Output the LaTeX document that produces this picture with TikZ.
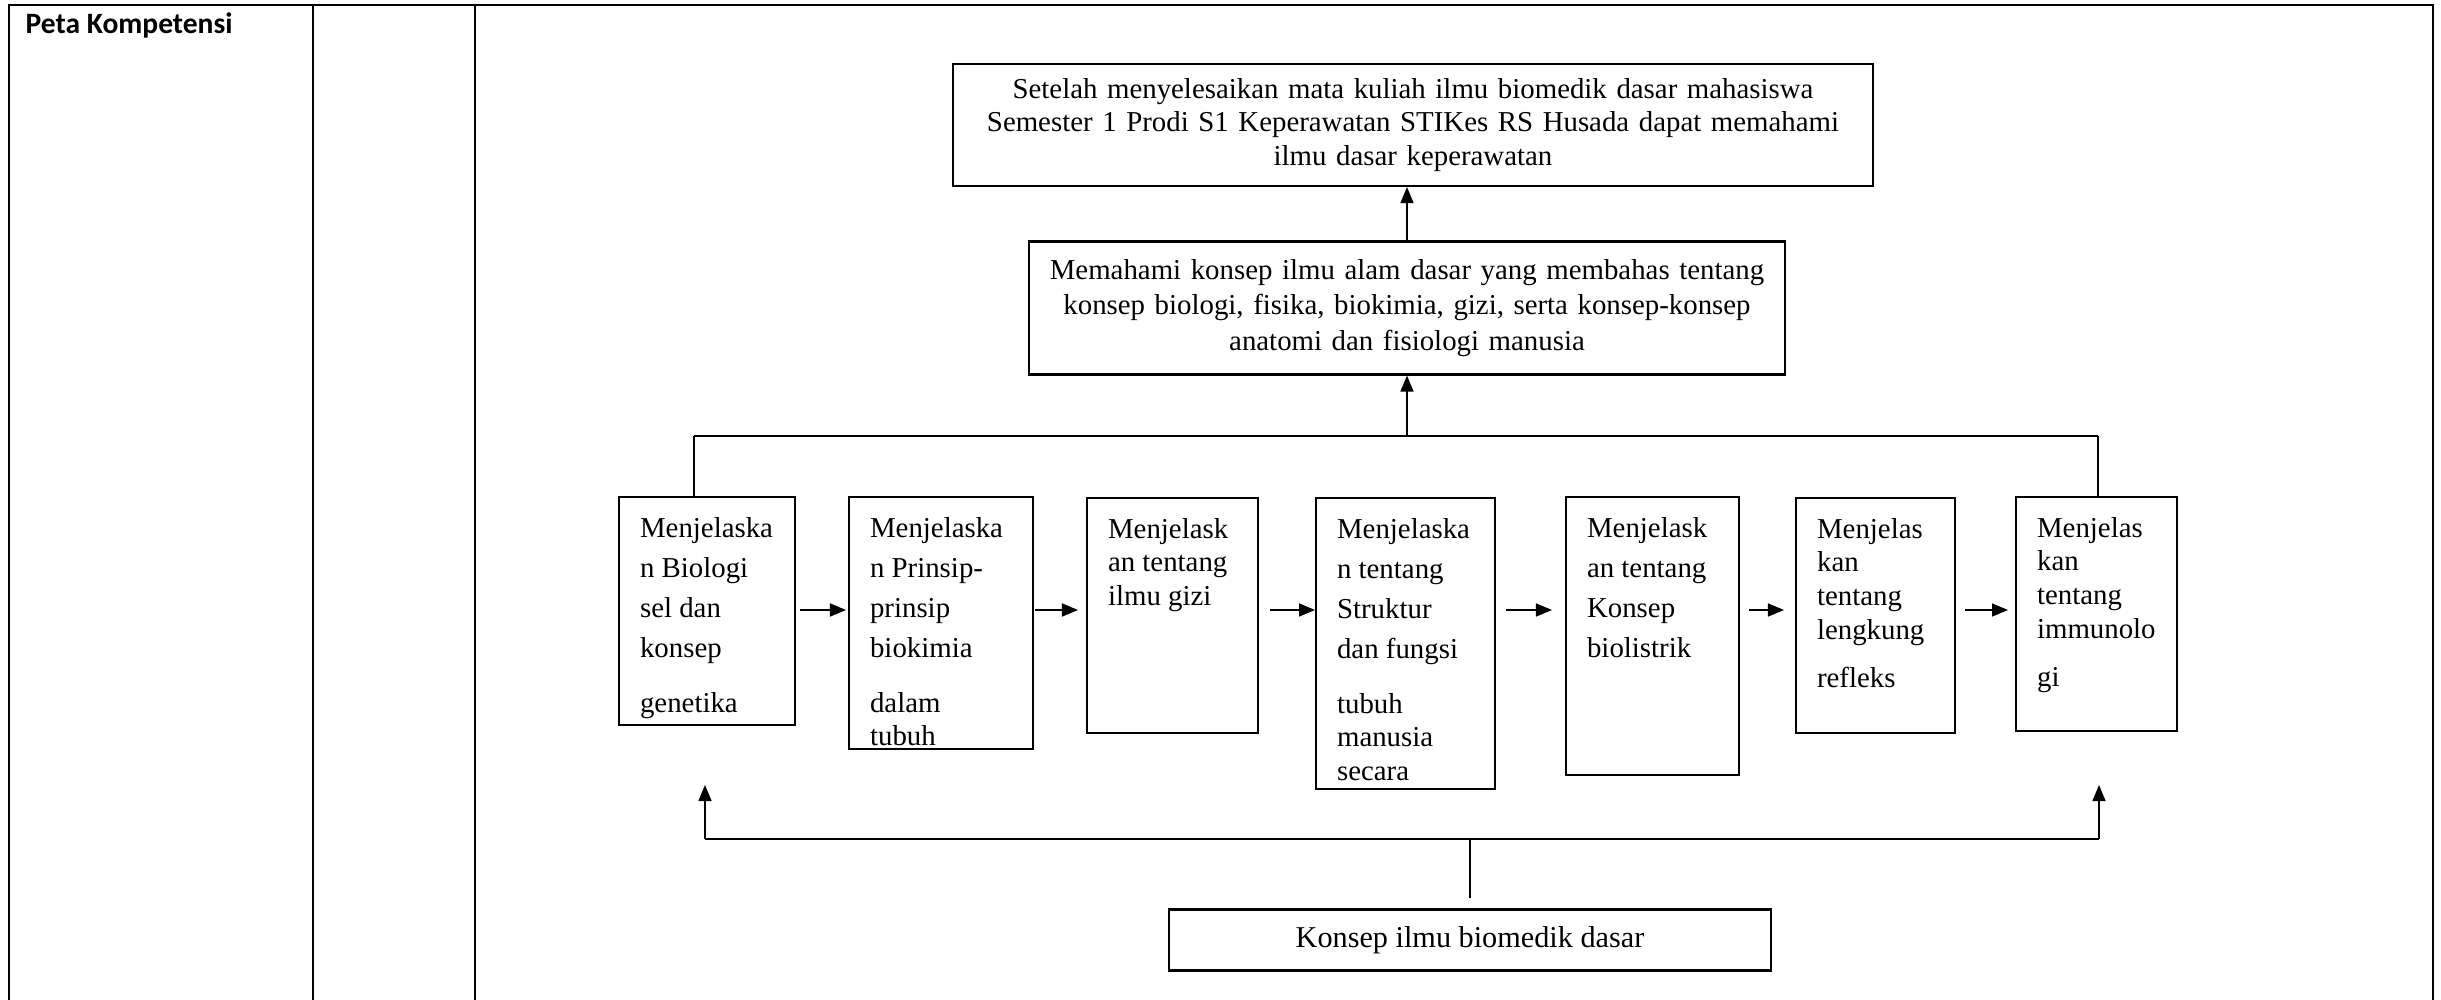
\documentclass[tikz,border=0pt]{standalone}
\usepackage{fontspec}
\setmainfont{Liberation Serif}
\newfontfamily\judulfont{Carlito}
\usetikzlibrary{arrows.meta}

% box text: fixed size, text from the top left
\newcommand{\isikotak}[3]{%
  \parbox[t][#2][t]{#1}{\vspace*{0.2cm}\raggedright\leftskip=0.21cm\relax #3}}

\begin{document}
\begin{tikzpicture}[x=0.01cm, y=-0.01cm,
  every node/.style={font=\fontsize{8.2}{9.6}\selectfont},
  garis/.style={line width=0.65pt},
  tipis/.style={line width=0.45pt},
  kotak/.style={draw, line width=0.6pt, inner sep=0pt, anchor=north west},
  tujuan/.style={draw, line width=0.6pt, align=center,
                 inner xsep=0.1cm, inner ysep=0pt},
  arr/.style={-{Triangle[length=0.16cm, width=0.13cm]}, line width=0.45pt},
]
\useasboundingbox (0,0) rectangle (2441,1000);

%% -- table frame ------------------------------
\draw[garis] (9,1000) -- (9,5) -- (2433,5) -- (2433,1000);
\draw[garis] (313,5) -- (313,1000);
\draw[garis] (475,5) -- (475,1000);
\node[font=\judulfont\bfseries\fontsize{8.4}{10}\selectfont, anchor=base west,
      inner sep=0pt] (judul) at (25,33) {Peta Kompetensi};

%% -- goal boxes -------------------------------
\node[tujuan, text width=9.0cm, minimum height=1.22cm,
      font=\fontsize{8.2}{9.5}\selectfont] (capaian) at (1413,125)
  {Setelah menyelesaikan mata kuliah ilmu biomedik dasar mahasiswa\\
   Semester 1 Prodi S1 Keperawatan STIKes RS Husada dapat memahami\\
   ilmu dasar keperawatan};
\node[tujuan, text width=7.36cm, minimum height=1.33cm,
      font=\fontsize{8.2}{10}\selectfont] (pemahaman) at (1407,308)
  {Memahami konsep ilmu alam dasar yang membahas tentang\\
   konsep biologi, fisika, biokimia, gizi, serta konsep-konsep\\
   anatomi dan fisiologi manusia};

%% -- row of topics ----------------------------
\node[kotak] (b1) at (618,496) {\isikotak{1.76cm}{2.28cm}{%
  Menjelaska\\[1.8pt] n Biologi\\[1.8pt] sel dan\\[1.8pt] konsep\\[6pt] genetika}};
\node[kotak] (b2) at (848,496) {\isikotak{1.84cm}{2.52cm}{%
  Menjelaska\\[1.8pt] n Prinsip-\\[1.8pt] prinsip\\[1.8pt] biokimia\\[6pt] dalam\\ tubuh}};
\node[kotak] (b3) at (1086,497) {\isikotak{1.71cm}{2.35cm}{%
  Menjelask\\ an tentang\\ ilmu gizi}};
\node[kotak] (b4) at (1315,497) {\isikotak{1.79cm}{2.91cm}{%
  Menjelaska\\[1.8pt] n tentang\\[1.8pt] Struktur\\[1.8pt] dan fungsi\\[6pt] tubuh\\ manusia\\ secara}};
\node[kotak] (b5) at (1565,496) {\isikotak{1.73cm}{2.78cm}{%
  Menjelask\\[1.8pt] an tentang\\[1.8pt] Konsep\\[1.8pt] biolistrik}};
\node[kotak] (b6) at (1795,497) {\isikotak{1.59cm}{2.35cm}{%
  Menjelas\\ kan\\ tentang\\ lengkung\\[4pt] refleks}};
\node[kotak] (b7) at (2015,496) {\isikotak{1.61cm}{2.34cm}{%
  Menjelas\\ kan\\ tentang\\ immunolo\\[4pt] gi}};

%% -- base box ---------------------------------
\node[tujuan, minimum width=6.02cm, minimum height=0.61cm,
      font=\fontsize{8.6}{10}\selectfont] (dasar) at (1470,940)
  {Konsep ilmu biomedik dasar};

%% -- arrows along the row ---------------------
\coordinate (baris) at (0,610);
\foreach \a/\b/\s/\e in {b1/b2/0.04cm/0.02cm, b2/b3/0.01cm/0.08cm,
                         b3/b4/0.11cm/0cm,    b4/b5/0.10cm/0.13cm,
                         b5/b6/0.09cm/0.11cm, b6/b7/0.09cm/0.07cm}
  \draw[arr, shorten <=\s, shorten >=\e] (\a.east |- baris) -- (\b.west |- baris);

%% -- upper bus --------------------------------
\coordinate (atasL) at (694,436);
\coordinate (atasR) at (2098,436);
\draw[garis] (atasL) -- (atasR);
\draw[tipis] (atasL) -- (atasL |- b1.north);
\draw[tipis] (atasR) -- (atasR |- b7.north);
\draw[arr] (pemahaman.south |- atasL) -- (pemahaman.south);
\draw[arr] (pemahaman.north) -- (pemahaman.north |- capaian.south);

%% -- lower bus --------------------------------
\coordinate (bawahL) at (705,839);
\coordinate (bawahR) at (2099,839);
\coordinate (ujungL) at (705,785);
\coordinate (ujungR) at (2099,785);
\draw[garis] (bawahL) -- (bawahR);
\draw[arr] (bawahL) -- (ujungL);
\draw[arr] (bawahR) -- (ujungR);
\draw[tipis, shorten <=0.1cm] (dasar.north) -- (dasar.north |- bawahL);

\end{tikzpicture}
\end{document}
